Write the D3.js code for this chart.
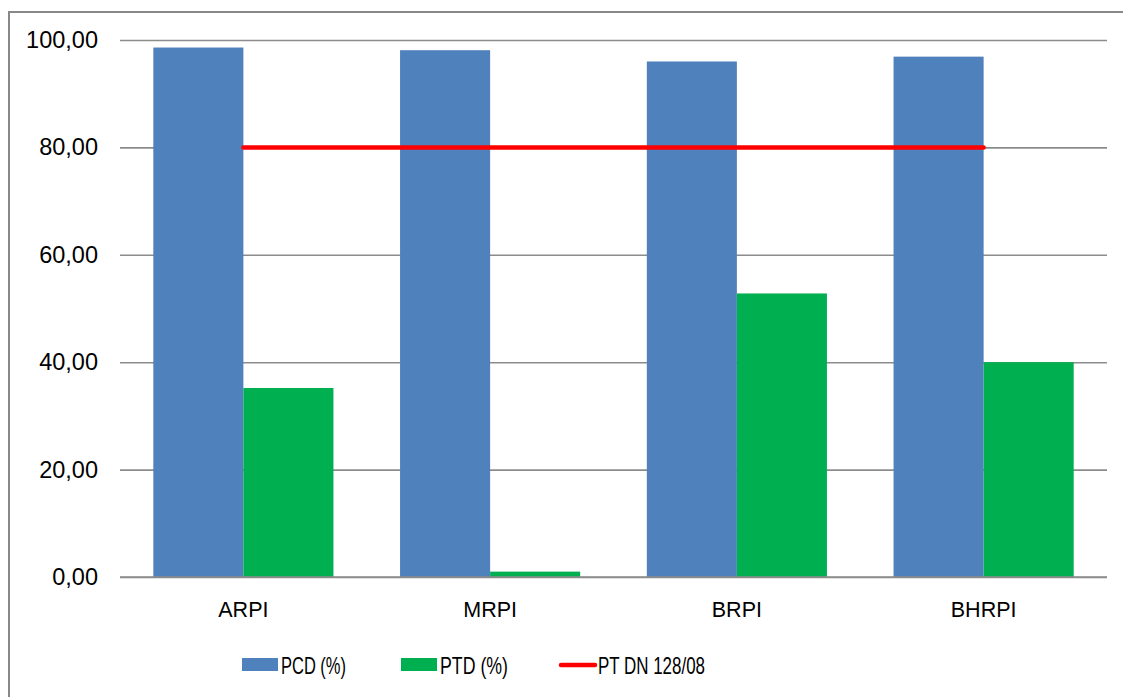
<!DOCTYPE html>
<html>
<head>
<meta charset="utf-8">
<script src="https://cdn.jsdelivr.net/npm/d3@7"></script>
<style>
  html, body { margin: 0; padding: 0; background: #fff; }
  svg { display: block; font-family: "Liberation Sans", Arial, sans-serif; }
</style>
</head>
<body>
<svg id="chart" width="1123" height="697"></svg>
<script>
// Indicator values per unit
const categories = ["ARPI", "MRPI", "BRPI", "BHRPI"];
const pcdValues = [98.6, 98.1, 96.0, 96.9];
const ptdValues = [35.2, 1.0, 52.8, 40.0];
const limitValues = [80, 80, 80, 80];
const seriesNames = ["PCD (%)", "PTD (%)", "PT DN 128/08"];
const yTicks = [0, 20, 40, 60, 80, 100];

const colors = { pcd: "#4F81BD", ptd: "#00B050", limit: "#FF0000", grid: "#8c8c8c", frame: "#888888" };

const svg = d3.select("#chart");
const margin = { left: 120, right: 16, top: 40, bottom: 120 };
const W = 1123, H = 697;
const plotW = W - margin.left - margin.right;   // 987
const plotH = H - margin.top - margin.bottom;   // 537

// Outer frame (runs off the right and bottom edges)
svg.append("rect")
  .attr("x", 9).attr("y", 12)
  .attr("width", W + 20).attr("height", H + 20)
  .attr("fill", "none").attr("stroke", colors.frame).attr("stroke-width", 2);

const g = svg.append("g").attr("transform", `translate(${margin.left},${margin.top})`);

const x0 = d3.scaleBand().domain(categories).range([0, plotW]).paddingInner(0.27).paddingOuter(0.135);
const x1 = d3.scaleBand().domain(["pcd", "ptd"]).range([0, x0.bandwidth()]);
const y = d3.scaleLinear().domain([0, 100]).range([plotH, 0]);

const locale = d3.formatLocale({ decimal: ",", thousands: ".", grouping: [3], currency: ["", ""] });
const fmt = locale.format(".2f");

// Gridlines and y labels
const yAxis = d3.axisLeft(y).tickValues(yTicks).tickFormat(fmt).tickSize(-plotW).tickPadding(22);
const ya = g.append("g").call(yAxis);
ya.select(".domain").remove();
ya.selectAll(".tick line").attr("stroke", colors.grid).attr("stroke-width", 1.6);
ya.selectAll(".tick text").attr("fill", "#000").attr("font-size", 23.5)
  .attr("font-family", "Liberation Sans, Arial, sans-serif");

// Bars
const data = categories.map((c, i) => ({ cat: c, pcd: pcdValues[i], ptd: ptdValues[i] }));
const groups = g.selectAll(".grp").data(data).join("g")
  .attr("transform", d => `translate(${x0(d.cat)},0)`);
groups.selectAll("rect").data(d => ["pcd", "ptd"].map(k => ({ k, v: d[k] }))).join("rect")
  .attr("x", d => x1(d.k))
  .attr("width", x1.bandwidth())
  .attr("y", d => y(d.v))
  .attr("height", d => y(0) - y(d.v))
  .attr("fill", d => colors[d.k]);

// Baseline drawn over bars
g.append("line").attr("x1", 0).attr("x2", plotW).attr("y1", y(0)).attr("y2", y(0))
  .attr("stroke", colors.grid).attr("stroke-width", 1.6);

// Limit line through category centres
const line = d3.line()
  .x((d, i) => x0(categories[i]) + x0.bandwidth() / 2)
  .y(d => y(d));
g.append("path").datum(limitValues)
  .attr("d", line)
  .attr("fill", "none").attr("stroke", colors.limit).attr("stroke-width", 4.5)
  .attr("stroke-linecap", "round");

// X labels
const xa = g.append("g").attr("transform", `translate(0,${plotH})`)
  .call(d3.axisBottom(x0).tickSize(0).tickPadding(25));
xa.select(".domain").remove();
xa.selectAll(".tick text").attr("fill", "#000").attr("font-size", 21.5)
  .attr("font-family", "Liberation Sans, Arial, sans-serif");

// Legend
const legend = svg.append("g").attr("transform", "translate(0,665)");
const items = [
  { name: seriesNames[0], type: "rect", color: colors.pcd, x: 242, len: 65 },
  { name: seriesNames[1], type: "rect", color: colors.ptd, x: 401, len: 68 },
  { name: seriesNames[2], type: "line", color: colors.limit, x: 559, len: 107 }
];
items.forEach(it => {
  if (it.type === "rect") {
    legend.append("rect").attr("x", it.x).attr("y", -7).attr("width", 36).attr("height", 13).attr("fill", it.color);
  } else {
    legend.append("line").attr("x1", it.x + 2).attr("x2", it.x + 36).attr("y1", 0).attr("y2", 0)
      .attr("stroke", it.color).attr("stroke-width", 4.5).attr("stroke-linecap", "round");
  }
  legend.append("text").attr("x", it.x + 39).attr("y", 0).attr("dy", "0.36em")
    .attr("font-size", 24).attr("fill", "#000")
    .attr("textLength", it.len).attr("lengthAdjust", "spacingAndGlyphs")
    .text(it.name);
});
</script>
</body>
</html>
